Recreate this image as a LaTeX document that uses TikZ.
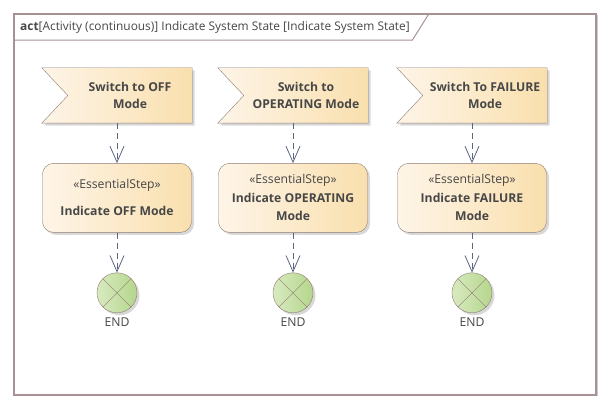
\documentclass[tikz,border=0pt]{standalone}
\usepackage{fontspec}
\setmainfont{Open Sans}
\usetikzlibrary{arrows.meta,positioning,shadows,backgrounds}
\definecolor{Edge}{HTML}{8E7C74}
\definecolor{Frame}{HTML}{A69292}
\definecolor{Flow}{HTML}{5C6680}
\definecolor{Ink}{HTML}{474747}
\definecolor{CreamL}{HTML}{FEF5E8}
\definecolor{CreamR}{HTML}{F9DFAD}
\definecolor{LimeL}{HTML}{D8EAC0}
\definecolor{LimeR}{HTML}{B5D68C}
\newcommand{\stereo}{«EssentialStep»}
\newcommand{\notch}[1]{\draw[sigbody]([xshift=-26pt]#1.north west)--(#1.north east)--(#1.south east)--([xshift=-26pt]#1.south west)--(#1.west)--cycle;}

\begin{document}
\begin{tikzpicture}[x=1pt,y=-1pt,node distance=40pt,>={Straight Barb[length=16pt,width=14pt]},
  font=\fontsize{12.2}{17}\selectfont,text=Ink,
  shadowed/.style={drop shadow={shadow xshift=2.5pt,shadow yshift=-2.5pt,opacity=.3,fill=black!50}},
  sig/.style={rectangle,minimum width=124pt,minimum height=55pt,inner sep=0pt,font=\fontsize{12.2}{17}\selectfont\bfseries,align=center},
  sigbody/.style={draw=Edge,left color=CreamL,right color=CreamR,shadowed},
  act/.style={rectangle,rounded corners=11pt,draw=Edge,left color=CreamL,right color=CreamR,minimum width=149pt,minimum height=69pt,align=center,shadowed},
  fin/.style={circle,draw=Edge,left color=LimeL,right color=LimeR,minimum size=40pt,inner sep=0pt,shadowed},
  flow/.style={->,draw=Flow,line width=0.8pt,dash pattern=on 6pt off 4pt}]
\useasboundingbox (0,0) rectangle (611,411);
% signals
\node[sig](s1) at (130,95.5) {Switch to OFF\\Mode};
\node[sig](s2) at (306,95.5) {Switch to\\OPERATING Mode};
\node[sig](s3) at (485,95.5) {Switch To FAILURE\\Mode};
\begin{scope}[on background layer]
\node[draw=Frame,fill=white,line width=1.5pt,minimum width=582pt,minimum height=381pt,drop shadow={shadow xshift=1.5pt,shadow yshift=-1.5pt,opacity=.4,fill=black!50}](f) at (305,204.5) {};
\draw[Frame,line width=1pt] ([yshift=-27pt]f.north west) -- ++(399,0) -- ([xshift=416pt]f.north west);
\notch{s1}\notch{s2}\notch{s3}
\end{scope}
\node[anchor=west,inner sep=0pt,font=\fontsize{11.9}{17}\selectfont](t) at (20,27.5) {\textbf{act}[Activity (continuous)] Indicate System State [Indicate System State]};
% actions
\node[act,below=of s1,xshift=-13pt](a1){\stereo\\[10pt]\textbf{Indicate OFF Mode}};
\node[act,below=of s2,xshift=-13pt](a2){\stereo\\[2pt]\textbf{Indicate OPERATING}\\[1pt]\textbf{Mode}};
\node[act,below=of s3,xshift=-13pt](a3){\stereo\\[2pt]\textbf{Indicate FAILURE}\\[1pt]\textbf{Mode}};
% ends
\node[fin,below=of a1](e1){};
\node[fin,below=of a2](e2){};
\node[fin,below=of a3](e3){};
\draw[Edge](e1.north west)--(e1.south east) (e1.north east)--(e1.south west);
\draw[Edge](e2.north west)--(e2.south east) (e2.north east)--(e2.south west);
\draw[Edge](e3.north west)--(e3.south east) (e3.north east)--(e3.south west);
\node[below=1pt of e1](l1){END};
\node[below=1pt of e2](l2){END};
\node[below=1pt of e3](l3){END};
\draw[flow](s1.south -| a1)--(a1);\draw[flow](a1)--(e1);
\draw[flow](s2.south -| a2)--(a2);\draw[flow](a2)--(e2);
\draw[flow](s3.south -| a3)--(a3);\draw[flow](a3)--(e3);
\end{tikzpicture}
\end{document}
